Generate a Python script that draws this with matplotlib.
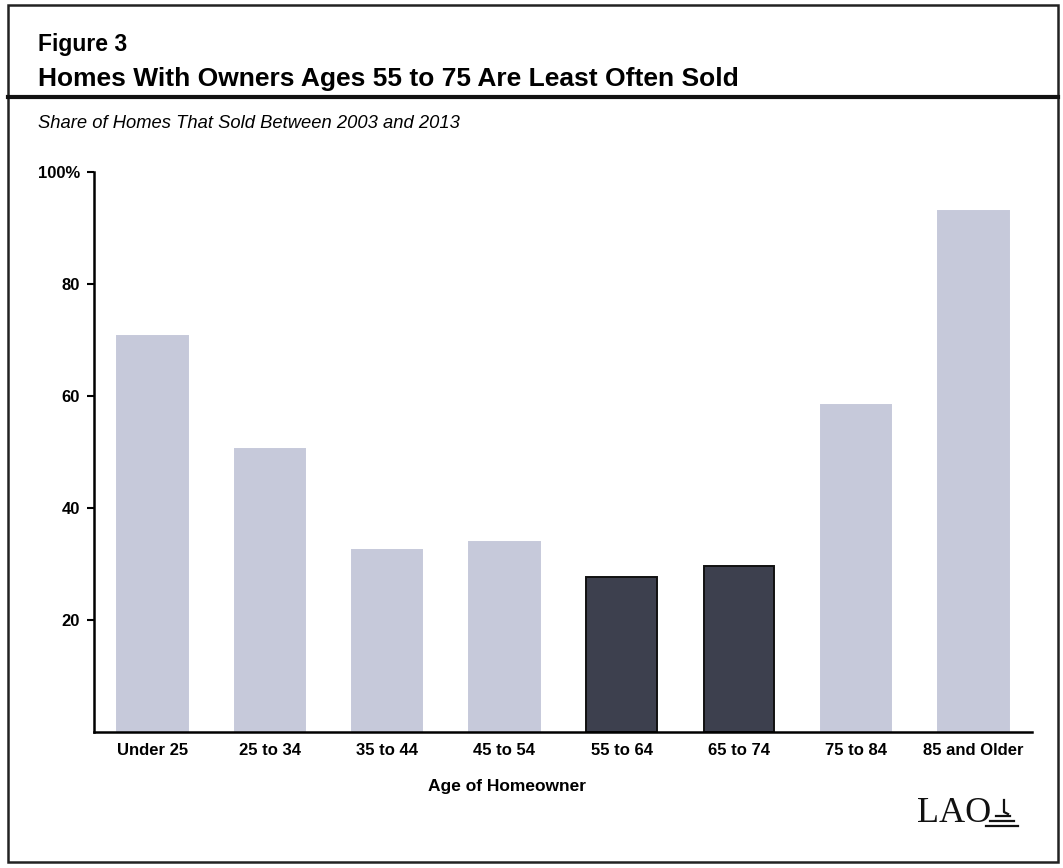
import matplotlib.pyplot as plt
from matplotlib.patches import Rectangle
from matplotlib.lines import Line2D

# data
age_groups = ["Under 25", "25 to 34", "35 to 44", "45 to 54",
              "55 to 64", "65 to 74", "75 to 84", "85 and Older"]
share_sold = [70.7, 50.5, 32.5, 33.9, 27.7, 29.6, 58.4, 93.0]
highlight = [False, False, False, False, True, True, False, False]

plt.rcParams['font.family'] = ['Liberation Sans', 'DejaVu Sans']

W, H = 1063, 868
fig = plt.figure(figsize=(W / 100, H / 100), dpi=100)


def fx(px):
    return px / W


def fy(py):
    return 1 - py / H


# outer frame and header rule
fig.patches.append(Rectangle((fx(8), fy(862)), 1050 / W, 857 / H,
                             transform=fig.transFigure, fill=False,
                             edgecolor="#222222", linewidth=1.8))
fig.lines.append(Line2D([fx(8), fx(1058)], [fy(97), fy(97)],
                        transform=fig.transFigure, color="#111111", linewidth=3))

fig.text(fx(38), fy(44), "Figure 3", fontsize=16.5, fontweight="bold",
         va="center", ha="left")
fig.text(fx(38), fy(79), "Homes With Owners Ages 55 to 75 Are Least Often Sold",
         fontsize=19, fontweight="bold", va="center", ha="left")
fig.text(fx(38), fy(124), "Share of Homes That Sold Between 2003 and 2013",
         fontsize=13.2, style="italic", va="center", ha="left")

ax = fig.add_axes([fx(94), fy(732), (1032 - 94) / W, (732 - 172) / H])

colors = ["#3d404e" if h else "#c6c9da" for h in highlight]
edges = ["#111111" if h else "#c6c9da" for h in highlight]
ax.bar(range(len(age_groups)), share_sold, width=0.6, color=colors,
       edgecolor=edges, linewidth=1.4)

ax.set_xlim(-0.5, 7.5)
ax.set_ylim(0, 100)
ax.set_yticks([20, 40, 60, 80, 100])
ax.set_yticklabels(["20", "40", "60", "80", "100%"])
ax.set_xticks(range(len(age_groups)))
ax.set_xticklabels(age_groups)
ax.tick_params(axis="y", length=5, width=1.5, labelsize=12, pad=5)
ax.tick_params(axis="x", length=0, labelsize=12, pad=8)
for lbl in ax.get_xticklabels() + ax.get_yticklabels():
    lbl.set_fontweight("bold")

ax.spines["top"].set_visible(False)
ax.spines["right"].set_visible(False)
ax.spines["left"].set_linewidth(1.8)
ax.spines["bottom"].set_linewidth(1.8)

fig.text(fx(507), fy(787), "Age of Homeowner", fontsize=12.5, fontweight="bold",
         ha="center", va="center")

# LAO logo
fig.text(fx(917), fy(813), "LAO", family="Liberation Serif",
         fontsize=26, ha="left", va="center", color="#111111")
for x0, x1, y in [(986, 1018, 826), (990, 1014, 821), (996, 1010, 816)]:
    fig.lines.append(Line2D([fx(x0), fx(x1)], [fy(y), fy(y)],
                            transform=fig.transFigure, color="#111111", linewidth=1.6))
fig.lines.append(Line2D([fx(1004), fx(1004), fx(1008)], [fy(800), fy(812), fy(814)],
                        transform=fig.transFigure, color="#111111", linewidth=1.6))

fig.savefig("out.png", dpi=100)
